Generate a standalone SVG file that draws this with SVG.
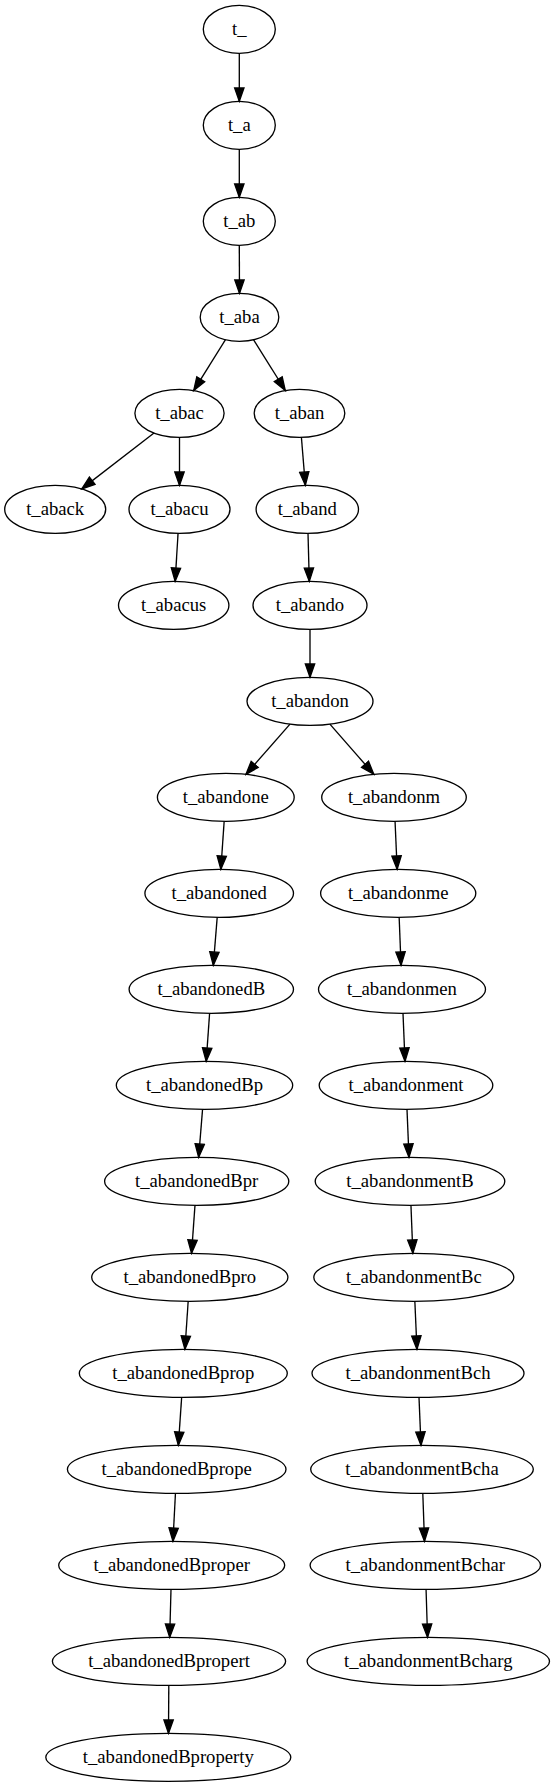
<svg xmlns="http://www.w3.org/2000/svg" width="554" height="1787" viewBox="0 0 554 1787">
<style>
.node ellipse{fill:none;stroke:#000;stroke-width:1.33}
.node text{font-family:"Liberation Serif","Times New Roman",serif;font-size:18.67px;text-anchor:middle;fill:#000}
.edges line{stroke:#000;stroke-width:1.33;marker-end:url(#arr)}
</style>
<defs>
<marker id="arr" markerUnits="userSpaceOnUse" viewBox="-1 -6 16 12" refX="13.33" refY="0" markerWidth="16" markerHeight="12" orient="auto">
<path d="M0,-4.67 L13.33,0 L0,4.67 Z" fill="#000" stroke="#000" stroke-width="1.33"/>
</marker>
</defs>
<rect width="554" height="1787" fill="#fff"/>
<g class="edges">
<line x1="239.3" y1="53.33" x2="239.3" y2="101.33"/>
<line x1="239.3" y1="149.33" x2="239.3" y2="197.33"/>
<line x1="239.3" y1="245.33" x2="239.5" y2="293.33"/>
<line x1="225.5" y1="339.7" x2="193.7" y2="390.6"/>
<line x1="253.5" y1="339.7" x2="285.3" y2="390.5"/>
<line x1="154" y1="433" x2="81.7" y2="488.9"/>
<line x1="179.5" y1="437.33" x2="179.5" y2="485.33"/>
<line x1="301.4" y1="437.3" x2="305.35" y2="485.35"/>
<line x1="178.05" y1="533.3" x2="175.15" y2="581.35"/>
<line x1="308" y1="533.33" x2="309.3" y2="581.33"/>
<line x1="310" y1="629.33" x2="310" y2="677.33"/>
<line x1="290" y1="724.1" x2="245.9" y2="774.4"/>
<line x1="329.9" y1="724.1" x2="373.8" y2="774.3"/>
<line x1="224.15" y1="821.33" x2="220.85" y2="869.33"/>
<line x1="395.05" y1="821.33" x2="397.15" y2="869.33"/>
<line x1="217.2" y1="917.33" x2="213.3" y2="965.33"/>
<line x1="399.15" y1="917.33" x2="401.05" y2="965.33"/>
<line x1="209.6" y1="1013.33" x2="206.2" y2="1061.33"/>
<line x1="403" y1="1013.33" x2="405" y2="1061.33"/>
<line x1="202.55" y1="1109.33" x2="198.65" y2="1157.33"/>
<line x1="407" y1="1109.33" x2="409" y2="1157.33"/>
<line x1="194.98" y1="1205.33" x2="191.53" y2="1253.33"/>
<line x1="410.95" y1="1205.33" x2="412.85" y2="1253.33"/>
<line x1="188.18" y1="1301.33" x2="184.93" y2="1349.33"/>
<line x1="414.85" y1="1301.33" x2="416.95" y2="1349.33"/>
<line x1="181.65" y1="1397.33" x2="178.35" y2="1445.33"/>
<line x1="419" y1="1397.33" x2="421" y2="1445.33"/>
<line x1="175.45" y1="1493.33" x2="172.95" y2="1541.33"/>
<line x1="422.8" y1="1493.33" x2="424.5" y2="1541.33"/>
<line x1="171" y1="1589.33" x2="169.7" y2="1637.33"/>
<line x1="426.05" y1="1589.33" x2="427.55" y2="1637.33"/>
<line x1="168.8" y1="1685.33" x2="168.5" y2="1733.33"/>
</g>
<g id="n0" class="node"><ellipse cx="239.3" cy="29.33" rx="36" ry="24"/><text x="239.3" y="34.93">t_</text></g>
<g id="n1" class="node"><ellipse cx="239.3" cy="125.33" rx="36" ry="24"/><text x="239.3" y="130.93">t_a</text></g>
<g id="n2" class="node"><ellipse cx="239.3" cy="221.33" rx="36" ry="24"/><text x="239.3" y="226.93">t_ab</text></g>
<g id="n3" class="node"><ellipse cx="239.5" cy="317.33" rx="39.3" ry="24"/><text x="239.5" y="322.93">t_aba</text></g>
<g id="n4" class="node"><ellipse cx="179.5" cy="413.33" rx="44.6" ry="24"/><text x="179.5" y="418.93">t_abac</text></g>
<g id="n5" class="node"><ellipse cx="299.5" cy="413.33" rx="45.3" ry="24"/><text x="299.5" y="418.93">t_aban</text></g>
<g id="n6" class="node"><ellipse cx="55.2" cy="509.33" rx="50.5" ry="24"/><text x="55.2" y="514.93">t_aback</text></g>
<g id="n7" class="node"><ellipse cx="179.5" cy="509.33" rx="50.5" ry="24"/><text x="179.5" y="514.93">t_abacu</text></g>
<g id="n8" class="node"><ellipse cx="307.3" cy="509.33" rx="51.2" ry="24"/><text x="307.3" y="514.93">t_aband</text></g>
<g id="n9" class="node"><ellipse cx="173.7" cy="605.33" rx="55.2" ry="24"/><text x="173.7" y="610.93">t_abacus</text></g>
<g id="n10" class="node"><ellipse cx="310" cy="605.33" rx="57" ry="24"/><text x="310" y="610.93">t_abando</text></g>
<g id="n11" class="node"><ellipse cx="310" cy="701.33" rx="63" ry="24"/><text x="310" y="706.93">t_abandon</text></g>
<g id="n12" class="node"><ellipse cx="225.8" cy="797.33" rx="68.4" ry="24"/><text x="225.8" y="802.93">t_abandone</text></g>
<g id="n13" class="node"><ellipse cx="394" cy="797.33" rx="72.3" ry="24"/><text x="394" y="802.93">t_abandonm</text></g>
<g id="n14" class="node"><ellipse cx="219.2" cy="893.33" rx="74.3" ry="24"/><text x="219.2" y="898.93">t_abandoned</text></g>
<g id="n15" class="node"><ellipse cx="398.2" cy="893.33" rx="77.6" ry="24"/><text x="398.2" y="898.93">t_abandonme</text></g>
<g id="n16" class="node"><ellipse cx="211.3" cy="989.33" rx="82.2" ry="24"/><text x="211.3" y="994.93">t_abandonedB</text></g>
<g id="n17" class="node"><ellipse cx="402" cy="989.33" rx="83.5" ry="24"/><text x="402" y="994.93">t_abandonmen</text></g>
<g id="n18" class="node"><ellipse cx="204.5" cy="1085.33" rx="88.2" ry="24"/><text x="204.5" y="1090.93">t_abandonedBp</text></g>
<g id="n19" class="node"><ellipse cx="406" cy="1085.33" rx="86.8" ry="24"/><text x="406" y="1090.93">t_abandonment</text></g>
<g id="n20" class="node"><ellipse cx="196.7" cy="1181.33" rx="92.1" ry="24"/><text x="196.7" y="1186.93">t_abandonedBpr</text></g>
<g id="n21" class="node"><ellipse cx="410" cy="1181.33" rx="94.8" ry="24"/><text x="410" y="1186.93">t_abandonmentB</text></g>
<g id="n22" class="node"><ellipse cx="189.8" cy="1277.33" rx="98.1" ry="24"/><text x="189.8" y="1282.93">t_abandonedBpro</text></g>
<g id="n23" class="node"><ellipse cx="413.8" cy="1277.33" rx="100" ry="24"/><text x="413.8" y="1282.93">t_abandonmentBc</text></g>
<g id="n24" class="node"><ellipse cx="183.3" cy="1373.33" rx="104" ry="24"/><text x="183.3" y="1378.93">t_abandonedBprop</text></g>
<g id="n25" class="node"><ellipse cx="418" cy="1373.33" rx="106" ry="24"/><text x="418" y="1378.93">t_abandonmentBch</text></g>
<g id="n26" class="node"><ellipse cx="176.7" cy="1469.33" rx="109.3" ry="24"/><text x="176.7" y="1474.93">t_abandonedBprope</text></g>
<g id="n27" class="node"><ellipse cx="422" cy="1469.33" rx="111.3" ry="24"/><text x="422" y="1474.93">t_abandonmentBcha</text></g>
<g id="n28" class="node"><ellipse cx="171.7" cy="1565.33" rx="113" ry="24"/><text x="171.7" y="1570.93">t_abandonedBproper</text></g>
<g id="n29" class="node"><ellipse cx="425.3" cy="1565.33" rx="115.2" ry="24"/><text x="425.3" y="1570.93">t_abandonmentBchar</text></g>
<g id="n30" class="node"><ellipse cx="169" cy="1661.33" rx="116.6" ry="24"/><text x="169" y="1666.93">t_abandonedBpropert</text></g>
<g id="n31" class="node"><ellipse cx="428.3" cy="1661.33" rx="121.2" ry="24"/><text x="428.3" y="1666.93">t_abandonmentBcharg</text></g>
<g id="n32" class="node"><ellipse cx="168.3" cy="1757.33" rx="122.5" ry="24"/><text x="168.3" y="1762.93">t_abandonedBproperty</text></g>
</svg>
